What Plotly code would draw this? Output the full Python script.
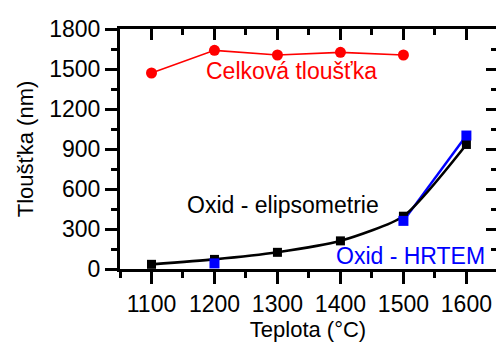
import plotly.graph_objects as go

# Temperatures (°C) and thicknesses (nm)
teplota = [1100, 1200, 1300, 1400, 1500]
celkova = [1470, 1640, 1605, 1625, 1605]

teplota_elips = [1100, 1200, 1300, 1400, 1500, 1600]
oxid_elips = [35, 72, 125, 211, 396, 934]

teplota_hrtem = [1200, 1500, 1600]
oxid_hrtem = [42, 361, 1001]

x_ticks = [1100, 1200, 1300, 1400, 1500, 1600]
y_ticks = [0, 300, 600, 900, 1200, 1500, 1800]

FONT = "Liberation Sans"
RED = "#FF0000"
BLUE = "#0000FF"
BLACK = "#000000"

fig = go.Figure()

fig.add_trace(go.Scatter(
    x=teplota, y=celkova, mode="lines+markers",
    line=dict(color=RED, width=1.6),
    marker=dict(symbol="circle", size=11, color=RED),
    showlegend=False, cliponaxis=False))

# HRTEM connecting segment for the last two points
fig.add_trace(go.Scatter(
    x=teplota_hrtem[1:], y=oxid_hrtem[1:], mode="lines",
    line=dict(color=BLUE, width=2.5),
    showlegend=False, cliponaxis=False))

fig.add_trace(go.Scatter(
    x=teplota_elips, y=oxid_elips, mode="lines+markers",
    line=dict(color=BLACK, width=2.6, shape="spline", smoothing=0.6),
    marker=dict(symbol="square", size=9, color=BLACK),
    showlegend=False, cliponaxis=False))

fig.add_trace(go.Scatter(
    x=teplota_hrtem, y=oxid_hrtem, mode="markers",
    marker=dict(symbol="square", size=10, color=BLUE),
    showlegend=False, cliponaxis=False))

# Helper trace so the mirrored top/right axes are drawn
fig.add_trace(go.Scatter(x=[1100], y=[0], xaxis="x2", yaxis="y2",
                         mode="markers", marker=dict(opacity=0),
                         showlegend=False, hoverinfo="skip"))

X_RANGE = [1050, 1647]
Y_RANGE = [0, 1800]

fig.update_layout(
    width=496, height=342,
    margin=dict(l=120, r=0, t=29, b=73),
    paper_bgcolor="white", plot_bgcolor="white",
    font=dict(family=FONT, size=22, color=BLACK),
    xaxis=dict(
        range=X_RANGE, tickvals=x_ticks, ticktext=[str(v) for v in x_ticks],
        showgrid=False, zeroline=False, showline=True, linecolor=BLACK, linewidth=3,
        ticks="outside", ticklen=12, tickwidth=3, tickcolor=BLACK,
        minor=dict(dtick=50, tick0=1050, ticks="outside", ticklen=6, tickwidth=3, tickcolor=BLACK),
        tickfont=dict(family=FONT, size=23),
        title=dict(text="Teplota (°C)", font=dict(family=FONT, size=22), standoff=3),
    ),
    yaxis=dict(
        range=Y_RANGE, tickvals=y_ticks, ticktext=[str(v) for v in y_ticks],
        showgrid=False, zeroline=False, showline=True, linecolor=BLACK, linewidth=3,
        ticks="outside", ticklen=12, tickwidth=3, tickcolor=BLACK,
        minor=dict(dtick=150, tick0=0, ticks="outside", ticklen=6, tickwidth=3, tickcolor=BLACK),
        tickfont=dict(family=FONT, size=23),
        title=dict(text="Tloušťka (nm)", font=dict(family=FONT, size=22), standoff=10),
    ),
    xaxis2=dict(
        range=X_RANGE, overlaying="x", side="top", anchor="y2",
        tickvals=x_ticks, showticklabels=False,
        showgrid=False, zeroline=False, showline=True, linecolor=BLACK, linewidth=3,
        ticks="inside", ticklen=11, tickwidth=3, tickcolor=BLACK,
        minor=dict(dtick=50, tick0=1050, ticks="inside", ticklen=6, tickwidth=3, tickcolor=BLACK),
    ),
    yaxis2=dict(
        range=Y_RANGE, overlaying="y", side="right", anchor="x2",
        tickvals=y_ticks, showticklabels=False,
        showgrid=False, zeroline=False, showline=False,
        ticks="inside", ticklen=10, tickwidth=3, tickcolor=BLACK,
        minor=dict(dtick=150, tick0=0, ticks="inside", ticklen=5, tickwidth=3, tickcolor=BLACK),
    ),
    annotations=[
        dict(text="Celková tloušťka", x=1323, y=1485, xref="x", yref="y",
             showarrow=False, font=dict(family=FONT, color=RED, size=23)),
        dict(text="Oxid - elipsometrie", x=1309, y=480, xref="x", yref="y",
             showarrow=False, font=dict(family=FONT, color=BLACK, size=23)),
        dict(text="Oxid - HRTEM", x=1511, y=97, xref="x", yref="y",
             showarrow=False, font=dict(family=FONT, color=BLUE, size=23)),
    ],
)

fig.write_html("out.html")
